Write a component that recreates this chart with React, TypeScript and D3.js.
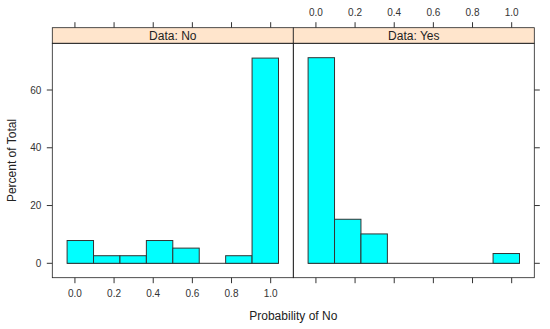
import * as d3 from 'd3';

// histogram bins of "Probability of No", 8 equal bins over [-0.04, 1.04]
const binEdges = [-0.04, 0.095, 0.23, 0.365, 0.5, 0.635, 0.77, 0.905, 1.04];
const panels = ['No', 'Yes'];
const percentNo = [7.89, 2.63, 2.63, 7.89, 5.26, 0, 2.63, 71.05];
const percentYes = [71.19, 15.25, 10.17, 0, 0, 0, 0, 3.39];
const xTicks = [0, 0.2, 0.4, 0.6, 0.8, 1.0];
const yTicks = [0, 20, 40, 60];

const W = 550;
const H = 329;
const left = 52.3;
const panelW = 241;
const stripTop = 27.7;
const stripH = 15.6;
const panelTop = stripTop + stripH;
const panelBottom = 277.7;
const font = 'Liberation Sans, Arial, Helvetica, sans-serif';
const tickCol = '#333';

export default function App(): JSX.Element {
  const series = [percentNo, percentYes];
  const maxY = d3.max(series.flat()) ?? 0;
  const padX = (binEdges[binEdges.length - 1] - binEdges[0]) * 0.07;
  const padY = maxY * 0.07;
  const y = d3
    .scaleLinear()
    .domain([-padY, maxY + padY])
    .range([panelBottom, panelTop]);

  return (
    <svg width={W} height={H} style={{ position: 'absolute', left: 0, top: 0 }} fontFamily={font}>
      <rect width={W} height={H} fill="#fff" />
      {panels.map((p, pi) => {
        const x0 = left + pi * panelW;
        const x = d3
          .scaleLinear()
          .domain([binEdges[0] - padX, binEdges[binEdges.length - 1] + padX])
          .range([x0, x0 + panelW]);
        const vals = series[pi];
        return (
          <g key={p}>
            {/* strip */}
            <rect x={x0} y={stripTop} width={panelW} height={stripH} fill="#ffe5cc" stroke="#222" strokeWidth={0.8} />
            <text x={x0 + panelW / 2} y={stripTop + stripH / 2 + 4.3} textAnchor="middle" fontSize={12} fill="#222">
              {`Data: ${p}`}
            </text>
            {/* baseline */}
            <line x1={x(binEdges[0])} x2={x(binEdges[binEdges.length - 1])} y1={y(0)} y2={y(0)} stroke="#333" strokeWidth={1} />
            {vals.map((v, i) =>
              v > 0 ? (
                <rect
                  key={i}
                  x={x(binEdges[i])}
                  y={y(v)}
                  width={x(binEdges[i + 1]) - x(binEdges[i])}
                  height={y(0) - y(v)}
                  fill="#00ffff"
                  stroke="#333"
                  strokeWidth={1}
                />
              ) : null,
            )}
            {/* panel border */}
            <rect x={x0} y={panelTop} width={panelW} height={panelBottom - panelTop} fill="none" stroke="#222" strokeWidth={0.8} />
            {/* x ticks top & bottom */}
            {xTicks.map((t) => (
              <g key={t}>
                <line x1={x(t)} x2={x(t)} y1={stripTop} y2={stripTop - 5.5} stroke={tickCol} />
                <line x1={x(t)} x2={x(t)} y1={panelBottom} y2={panelBottom + 5.5} stroke={tickCol} />
                {pi === 0 ? (
                  <text x={x(t)} y={panelBottom + 19.5} textAnchor="middle" fontSize={10} fill={tickCol}>
                    {t.toFixed(1)}
                  </text>
                ) : (
                  <text x={x(t)} y={stripTop - 11.5} textAnchor="middle" fontSize={10} fill={tickCol}>
                    {t.toFixed(1)}
                  </text>
                )}
              </g>
            ))}
            {/* y ticks */}
            {yTicks.map((t) =>
              pi === 0 ? (
                <g key={t}>
                  <line x1={x0} x2={x0 - 5.5} y1={y(t)} y2={y(t)} stroke={tickCol} />
                  <text x={x0 - 11} y={y(t) + 3.6} textAnchor="end" fontSize={10} fill={tickCol}>
                    {t}
                  </text>
                </g>
              ) : (
                <line key={t} x1={x0 + panelW} x2={x0 + panelW + 5.5} y1={y(t)} y2={y(t)} stroke={tickCol} />
              ),
            )}
          </g>
        );
      })}
      <text x={left + panelW} y={320} textAnchor="middle" fontSize={12} fill="#222">
        Probability of No
      </text>
      <text
        transform={`translate(16,${(panelTop + panelBottom) / 2}) rotate(-90)`}
        textAnchor="middle"
        fontSize={12}
        fill="#222"
      >
        Percent of Total
      </text>
    </svg>
  );
}
